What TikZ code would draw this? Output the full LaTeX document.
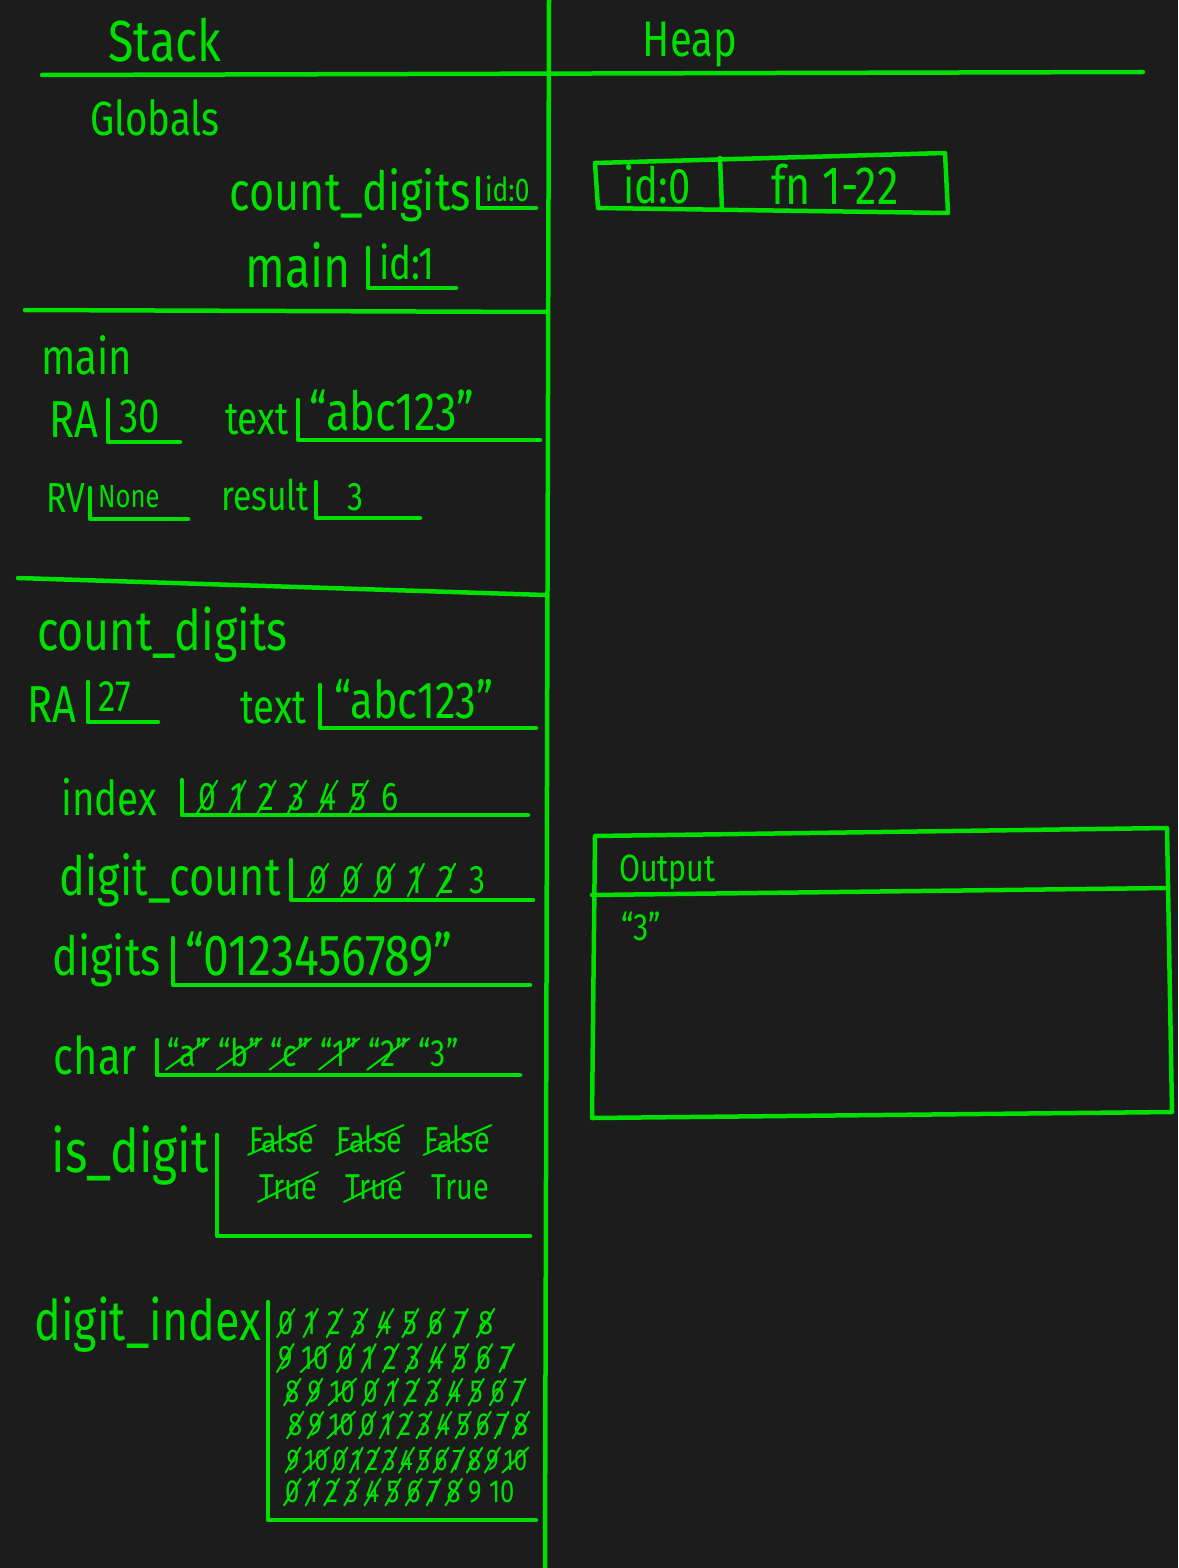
\documentclass[tikz,border=0pt]{standalone}
\usepackage{fontspec}
\setmainfont{Fira Sans}[FakeStretch=0.8]
\usetikzlibrary{positioning}

\definecolor{board}{HTML}{1C1C1C}
\definecolor{chalk}{HTML}{00E000}

\tikzset{
  wire/.style={draw=chalk, line width=4.5pt, line cap=round, line join=round},
  strike/.style={draw=chalk, line width=2pt, line cap=round},
  lbl/.style={text=chalk, inner sep=1pt, font=\fontsize{#1}{#1}\selectfont},
  lbl/.default=46,
  val/.style={text=chalk, inner sep=1pt, text height=0.72*#1pt, text depth=0.04*#1pt,
    font=\fontsize{#1}{#1}\selectfont},
  val/.default=40,
}

% a row of values, the struck ones marked with /1
\newcommand{\valrow}[4]{%
  \coordinate (#1-0) at #2;
  \foreach \v/\s [count=\i, remember=\i as \j (initially 0)] in {#4} {
    \node[#3, right=of #1-\j] (#1-\i) {\v};
    \ifnum\s=1 \draw[strike] (#1-\i.south west) -- (#1-\i.north east);\fi
  }}

\begin{document}
\begin{tikzpicture}[x=1pt, y=-1pt]
  \fill[board] (0,0) rectangle (1178,1568);
  \useasboundingbox (0,0) rectangle (1178,1568);

  % frame lines
  \draw[wire] (42,75) -- (1143,72);
  \draw[wire] (549,0) -- (545,1568);
  \draw[wire] (25,310) -- (547,312);
  \draw[wire] (18,578) -- (545,595);

  \node[lbl=58] (stack) at (165,40) {Stack};
  \node[lbl=50] (heap) at (690,45) {Heap};

  % globals
  \node[lbl=48] (globals) at (155,118) {Globals};
  \node[lbl=54, anchor=east] (g-count) at (472,195) {count\_digits};
  \draw[wire] (478,178) |- (536,208);
  \node[val=33, anchor=west] (g-count-v) at (484,190) {id:0};
  \node[lbl=58, anchor=east] (g-main) at (352,265) {main};
  \draw[wire] (368,248) |- (456,288);
  \node[val=46, anchor=west] (g-main-v) at (378,264) {id:1};

  % main frame
  \node[lbl=50, anchor=west] (f-main) at (40,355) {main};
  \node[lbl=52, anchor=east] (m-ra) at (100,420) {RA};
  \draw[wire] (108,400) |- (180,442);
  \node[val=48, anchor=west] (m-ra-v) at (118,416) {30};
  \node[lbl=46, anchor=east] (m-text) at (290,420) {text};
  \draw[wire] (298,400) |- (540,440);
  \node[val=54, anchor=west] (m-text-v) at (308,412) {“abc123”};
  \node[lbl=42, anchor=east] (m-rv) at (86,498) {RV};
  \draw[wire] (90,488) |- (188,519);
  \node[val=32, anchor=west] (m-rv-v) at (97,497) {None};
  \node[lbl=42, anchor=east] (m-result) at (310,495) {result};
  \draw[wire] (316,482) |- (420,518);
  \node[val=40] (m-result-v) at (355,497) {3};

  % count_digits frame
  \node[lbl=56, anchor=west] (f-count) at (36,635) {count\_digits};
  \node[lbl=52, anchor=east] (c-ra) at (78,705) {RA};
  \draw[wire] (88,682) |- (158,722);
  \node[val=44, anchor=west] (c-ra-v) at (97,697) {27};
  \node[lbl=48, anchor=east] (c-text) at (308,708) {text};
  \draw[wire] (320,685) |- (536,728);
  \node[val=52, anchor=west] (c-text-v) at (333,701) {“abc123”};

  \node[lbl=48, anchor=east] (c-index) at (158,797) {index};
  \draw[wire] (182,780) |- (528,815);
  \valrow{idx}{(185,797)}{val=40, node distance=12pt}
    {0/1,1/1,2/1,3/1,4/1,5/1,6/0}

  \node[lbl=54, anchor=east] (c-dcount) at (282,880) {digit\_count};
  \draw[wire] (291,860) |- (533,900);
  \valrow{dc}{(295,880)}{val=40, node distance=13pt}
    {0/1,0/1,0/1,1/1,2/1,3/0}

  \node[lbl=54, anchor=east] (c-digits) at (162,960) {digits};
  \draw[wire] (173,938) |- (530,985);
  \node[val=58, anchor=west] (c-digits-v) at (184,956) {“0123456789”};

  \node[lbl=52, anchor=east] (c-char) at (138,1055) {char};
  \draw[wire] (157,1040) |- (520,1075);
  \valrow{ch}{(158,1054)}{val=38, node distance=8pt}
    {“a”/1,“b”/1,“c”/1,“1”/1,“2”/1,“3”/0}

  \node[lbl=60, anchor=east] (c-isdigit) at (210,1155) {is\_digit};
  \draw[wire] (217,1135) |- (530,1236);
  \valrow{isd1}{(228,1140)}{val=36, node distance=20pt}
    {False/1,False/1,False/1}
  \valrow{isd2}{(232,1187)}{val=36, node distance=26pt}
    {True/1,True/1,True/0}

  \node[lbl=56, anchor=east] (c-dindex) at (262,1325) {digit\_index};
  \draw[wire] (268,1302) |- (536,1520);
  \valrow{di1}{(268,1323)}{val=34, node distance=9pt}
    {0/1,1/1,2/1,3/1,4/1,5/1,6/1,7/1,8/1}
  \valrow{di2}{(270,1358)}{val=34, node distance=7pt}
    {9/1,10/1,0/1,1/1,2/1,3/1,4/1,5/1,6/1,7/1}
  \valrow{di3}{(278,1392)}{val=32, node distance=6pt}
    {8/1,9/1,10/1,0/1,1/1,2/1,3/1,4/1,5/1,6/1,7/1}
  \valrow{di4}{(283,1425)}{val=32, node distance=4pt}
    {8/1,9/1,10/1,0/1,1/1,2/1,3/1,4/1,5/1,6/1,7/1,8/1}
  \valrow{di5}{(283,1460)}{val=30, node distance=2.5pt}
    {9/1,10/1,0/1,1/1,2/1,3/1,4/1,5/1,6/1,7/1,8/1,9/1,10/1}
  \valrow{di6}{(279,1492)}{val=32, node distance=5pt}
    {0/1,1/1,2/1,3/1,4/1,5/1,6/1,7/1,8/1,9/0,10/0}

  % heap
  \draw[wire] (595,163) -- (945,153) -- (948,213) -- (598,208) -- cycle;
  \draw[wire] (720,158) -- (722,210);
  \node[val=50] (h-id) at (657,186) {id:0};
  \node[val=54] (h-fn) at (835,186) {fn 1-22};

  \draw[wire] (595,836) -- (1167,828) -- (1172,1112) -- (592,1118) -- cycle;
  \draw[wire] (592,895) -- (1167,888);
  \node[lbl=38, anchor=west] (out) at (618,872) {Output};
  \node[val=38, anchor=west] (out-v) at (620,928) {“3”};
\end{tikzpicture}
\end{document}
